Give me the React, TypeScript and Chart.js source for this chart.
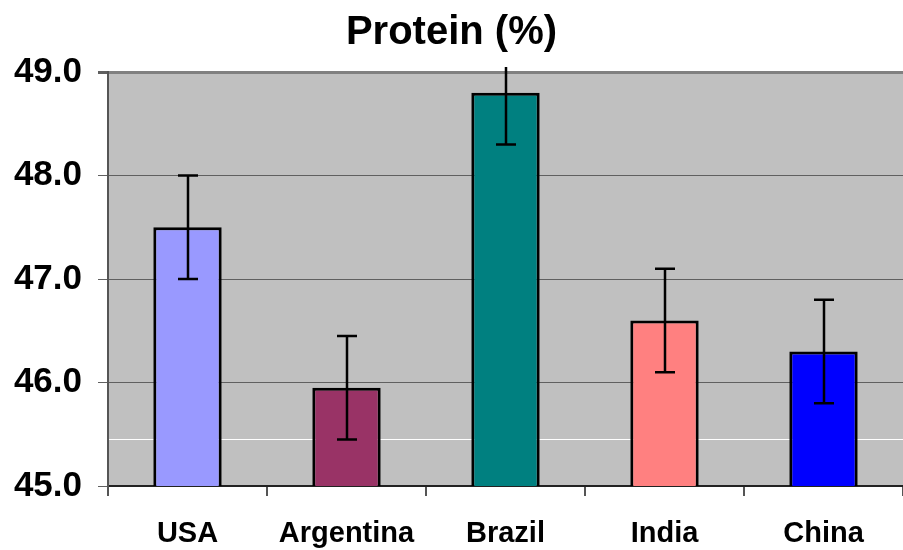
import React, { useEffect, useRef } from "react";
import { Chart, registerables } from "chart.js";

Chart.register(...registerables);

const categories = ["USA", "Argentina", "Brazil", "India", "China"];
const proteinValues = [47.5, 45.95, 48.8, 46.6, 46.3];
const errorValues = [0.5, 0.5, 0.5, 0.5, 0.5];
const barColors = ["#9999FF", "#993366", "#008080", "#FF8080", "#0000FF"];
const yMin = 45;
const yMax = 49;
const yStep = 1;
const whiteLineValue = 45.45;
const titleText = "Protein (%)";

const FONT = "'Liberation Sans', Arial, Helvetica, sans-serif";

const plotBgPlugin = {
  id: "plotBg",
  beforeDraw(chart: any) {
    const { ctx, chartArea } = chart;
    ctx.save();
    ctx.fillStyle = "#C0C0C0";
    ctx.fillRect(chartArea.left, chartArea.top, chartArea.right - chartArea.left, chartArea.bottom - chartArea.top);
    ctx.restore();
  },
  beforeDatasetsDraw(chart: any) {
    const { ctx, chartArea, scales } = chart;
    const y = Math.round(scales.y.getPixelForValue(whiteLineValue)) + 0.5;
    ctx.save();
    ctx.strokeStyle = "#FFFFFF";
    ctx.lineWidth = 1;
    ctx.beginPath();
    ctx.moveTo(chartArea.left + 1, y);
    ctx.lineTo(chartArea.right, y);
    ctx.stroke();
    ctx.restore();
  },
};

const errorBarPlugin = {
  id: "errorBars",
  afterDatasetsDraw(chart: any) {
    const { ctx, chartArea, scales } = chart;
    const meta = chart.getDatasetMeta(0);
    ctx.save();
    ctx.beginPath();
    ctx.rect(chartArea.left, chartArea.top - 5, chartArea.right - chartArea.left, chartArea.bottom - chartArea.top + 5);
    ctx.clip();
    ctx.strokeStyle = "#000000";
    ctx.lineWidth = 2.5;
    meta.data.forEach((bar: any, i: number) => {
      const x = Math.round(bar.x);
      const v = proteinValues[i];
      const e = errorValues[i];
      const yTop = scales.y.getPixelForValue(v + e);
      const yBot = scales.y.getPixelForValue(v - e);
      ctx.beginPath();
      ctx.moveTo(x, yTop);
      ctx.lineTo(x, yBot);
      ctx.moveTo(x - 10, yTop);
      ctx.lineTo(x + 10, yTop);
      ctx.moveTo(x - 10, yBot);
      ctx.lineTo(x + 10, yBot);
      ctx.stroke();
    });
    ctx.restore();
  },
};

export default function App() {
  const ref = useRef<HTMLCanvasElement>(null);

  useEffect(() => {
    if (!ref.current) return;
    const chart = new Chart(ref.current, {
      type: "bar",
      data: {
        labels: categories,
        datasets: [
          {
            data: proteinValues,
            backgroundColor: barColors,
            borderColor: "#000000",
            borderWidth: 3,
            borderSkipped: false,
            categoryPercentage: 1,
            barPercentage: 0.43,
          },
        ],
      },
      options: {
        responsive: false,
        animation: false,
        devicePixelRatio: 1,
        layout: { padding: { left: 0, right: 0, top: 0, bottom: 0 } },
        plugins: {
          legend: { display: false },
          tooltip: { enabled: false },
          title: {
            display: true,
            text: titleText,
            color: "#000000",
            font: { family: FONT, size: 40, weight: "bold", lineHeight: 1.2 },
            padding: { top: 9, bottom: 15 },
          },
        },
        scales: {
          x: {
            offset: true,
            grid: {
              display: true,
              drawOnChartArea: false,
              drawTicks: true,
              tickLength: 10,
              offset: true,
              color: "#555555",
              lineWidth: 2,
            },
            border: { display: true, color: "#222222", width: 2 },
            ticks: {
              color: "#000000",
              padding: 21,
              font: { family: FONT, size: 29, weight: "bold" },
            },
            afterFit(scale: any) {
              scale.height = 64;
            },
          },
          y: {
            min: yMin,
            max: yMax,
            ticks: {
              stepSize: yStep,
              color: "#000000",
              padding: 16,
              font: { family: FONT, size: 35, weight: "bold" },
              callback: (v: any) => Number(v).toFixed(1),
            },
            grid: {
              drawTicks: true,
              tickLength: 10,
              color: (c: any) => (c.tick && c.tick.value === yMax ? "#808080" : "#606060"),
              lineWidth: (c: any) => (c.tick && c.tick.value === yMax ? 3 : 1),
              tickColor: "#606060",
            },
            border: { display: true, color: "#555555", width: 2 },
            afterFit(scale: any) {
              scale.width = 108;
            },
          },
        },
      },
      plugins: [plotBgPlugin, errorBarPlugin],
    });
    return () => chart.destroy();
  }, []);

  return (
    <div style={{ position: "absolute", left: 0, top: 0, width: 903, height: 550 }}>
      <canvas ref={ref} width={903} height={550} style={{ display: "block" }} />
    </div>
  );
}
